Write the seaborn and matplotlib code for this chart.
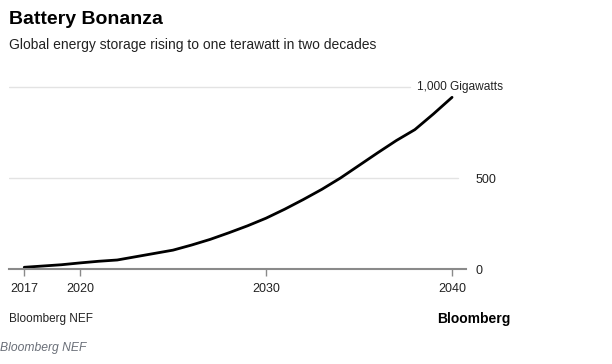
import matplotlib
matplotlib.use("Agg")
import matplotlib.pyplot as plt
import seaborn as sns
import pandas as pd

# Data (gigawatts of global energy storage)
years = list(range(2017, 2041))
gigawatts = [11, 18, 25, 35, 44, 51, 69, 87, 105, 133, 164, 200, 238, 280,
             329, 382, 438, 500, 569, 638, 705, 765, 851, 942]
xtick_years = [2017, 2020, 2030, 2040]
ytick_values = [0, 500]

df = pd.DataFrame({"year": years, "gw": gigawatts})

sns.set_theme(style="white")
plt.rcParams["font.family"] = ["Liberation Sans", "DejaVu Sans"]

W, H = 612, 364
fig = plt.figure(figsize=(W / 100, H / 100), dpi=100)
ax = fig.add_axes([9 / W, 94.7 / H, 457 / W, 191.7 / H])

sns.lineplot(data=df, x="year", y="gw", ax=ax, color="black", linewidth=2.0)

ax.set_xlim(2016.18, 2040.75)
ax.set_ylim(0, 1050)

# light gridlines
ax.axhline(500, xmin=0, xmax=(458 - 9) / 457, color="#e3e3e3", lw=1.0, zorder=0)
ax.axhline(1000, xmin=0, xmax=(410 - 9) / 457, color="#e3e3e3", lw=1.0, zorder=0)
ax.text(2038.1, 1000, "1,000 Gigawatts", fontsize=8.6, va="center", ha="left", color="#222222")

for s in ["top", "left", "right"]:
    ax.spines[s].set_visible(False)
ax.spines["bottom"].set_color("#8a8a8a")
ax.spines["bottom"].set_linewidth(1.5)

ax.set_xticks(xtick_years)
ax.set_xticklabels([str(y) for y in xtick_years], fontsize=9, color="#222222")
ax.tick_params(axis="x", direction="out", length=5, width=1, color="#8a8a8a", pad=5, bottom=True)

ax.yaxis.tick_right()
ax.set_yticks(ytick_values)
ax.set_yticklabels([str(v) for v in ytick_values], fontsize=9, color="#222222")
ax.tick_params(axis="y", length=0, pad=7, right=True)
ax.set_xlabel("")
ax.set_ylabel("")

fig.text(9 / W, 1 - 19 / H, "Battery Bonanza", fontsize=14, fontweight="bold",
         va="center", ha="left", color="black")
fig.text(9 / W, 1 - 45 / H, "Global energy storage rising to one terawatt in two decades",
         fontsize=10, va="center", ha="left", color="#222222")
fig.text(9 / W, 1 - 319 / H, "Bloomberg NEF", fontsize=8.5, va="center", ha="left", color="#222222")
fig.text(510 / W, 1 - 319 / H, "Bloomberg", fontsize=10, fontweight="bold",
         va="center", ha="right", color="black")
fig.text(0 / W, 1 - 348 / H, "Bloomberg NEF", fontsize=8.7, style="italic",
         va="center", ha="left", color="#6a6f78")

fig.savefig("out.png", dpi=100)
